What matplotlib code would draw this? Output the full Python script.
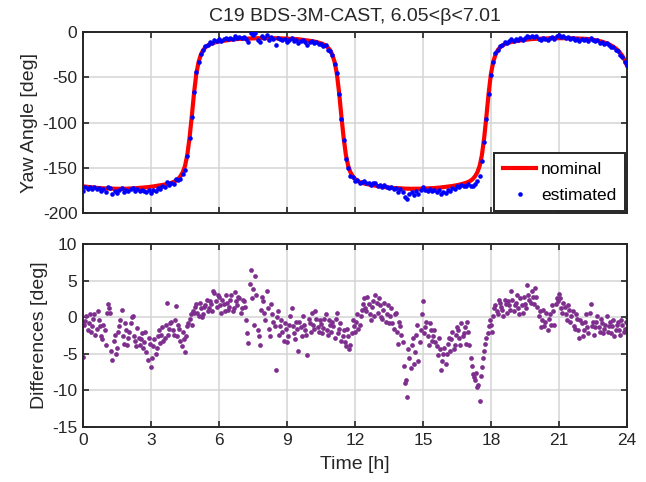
import numpy as np
import matplotlib
matplotlib.use("Agg")
import matplotlib.pyplot as plt

# epochs every 0.1 h over one day, plus the in-between epochs of the difference series
hours = np.round(np.arange(241) * 0.1, 1)
hours_mid = np.round(np.arange(240) * 0.1 + 0.05, 2)

# nominal yaw angle [deg] (one row per hour)
nominal = np.array([
    -170.5, -170.8, -171.1, -171.4, -171.7, -172.0, -172.2, -172.4, -172.6, -172.7,
    -172.8, -172.9, -173.0, -173.1, -173.2, -173.2, -173.2, -173.2, -173.1, -173.1,
    -173.0, -172.9, -172.7, -172.6, -172.4, -172.3, -172.0, -171.8, -171.5, -171.3,
    -171.0, -170.6, -170.2, -169.8, -169.4, -169.0, -168.5, -167.9, -167.3, -166.6,
    -165.6, -164.3, -162.3, -159.3, -155.0, -148.0, -136.0, -117.0, -93.0, -67.0,
    -46.0, -33.0, -25.0, -20.0, -17.0, -15.0, -13.5, -12.5, -11.7, -11.0,
    -10.5, -10.1, -9.7, -9.3, -8.9, -8.6, -8.3, -8.0, -7.8, -7.6,
    -7.5, -7.4, -7.3, -7.2, -7.1, -7.0, -6.9, -6.9, -6.8, -6.8,
    -6.8, -6.8, -6.8, -6.8, -6.8, -6.9, -6.9, -7.0, -7.1, -7.2,
    -7.3, -7.4, -7.5, -7.6, -7.8, -8.0, -8.3, -8.6, -8.9, -9.3,
    -9.7, -10.1, -10.5, -11.0, -11.7, -12.5, -13.5, -15.0, -17.0, -20.0,
    -25.0, -33.0, -46.0, -67.0, -93.0, -117.0, -136.0, -148.0, -155.0, -159.3,
    -162.3, -164.3, -165.8, -166.7, -167.3, -167.9, -168.5, -169.0, -169.4, -169.8,
    -170.2, -170.6, -171.0, -171.3, -171.5, -171.8, -172.0, -172.3, -172.4, -172.6,
    -172.7, -172.9, -173.0, -173.1, -173.1, -173.2, -173.2, -173.2, -173.2, -173.1,
    -173.0, -172.9, -172.8, -172.7, -172.6, -172.4, -172.2, -172.0, -171.7, -171.4,
    -171.1, -170.8, -170.5, -170.1, -169.7, -169.2, -168.7, -168.1, -167.4, -166.6,
    -165.6, -164.3, -162.3, -159.3, -155.0, -148.0, -136.0, -117.0, -93.0, -67.0,
    -46.0, -33.0, -25.0, -20.0, -17.0, -15.0, -13.5, -12.5, -11.7, -11.0,
    -10.5, -10.1, -9.7, -9.3, -8.9, -8.6, -8.3, -8.0, -7.8, -7.6,
    -7.5, -7.4, -7.3, -7.2, -7.1, -7.0, -6.9, -6.9, -6.8, -6.8,
    -6.8, -6.8, -6.8, -6.8, -6.8, -6.9, -6.9, -7.0, -7.1, -7.2,
    -7.3, -7.4, -7.6, -7.8, -8.1, -8.5, -8.9, -9.4, -10.0, -10.7,
    -11.5, -12.4, -13.5, -14.8, -16.3, -18.0, -20.2, -23.0, -26.5, -31.0,
    -37.0,
])

# estimated minus nominal [deg] at the 0.1 h epochs
differences = np.array([
    -5.5, -0.5, -1.8, 0.4, -1.2, 0.5, -1.6, -0.4, -2.6, -1.0,
    -3.8, 1.8, 0.6, -5.8, -2.5, -4.2, -1.2, 1.0, -3.6, -1.8,
    -2.8, -0.8, 0.2, -3.2, -1.5, -3.8, -2.2, -3.4, -4.8, -2.8,
    -6.8, -4.0, -5.0, -2.6, -3.5, -1.4, -2.8, 1.9, -1.6, -0.6,
    -2.4, 1.5, -1.0, -3.2, -2.0, -4.8, -1.2, -0.2, -1.0, 0.6,
    1.8, 0.2, 1.2, 0.4, 1.6, 0.8, 2.2, 0.9, 3.3, 1.4,
    2.8, 0.6, 1.8, 3.0, 1.0, 2.4, 0.8, 3.4, 1.6, 2.6,
    1.2, 2.2, -0.4, -3.5, 6.4, 3.8, 5.6, -1.8, -3.8, 2.8,
    0.6, 3.6, -1.6, 1.8, -0.6, -7.2, 0.8, -1.2, -2.0, -0.8,
    -3.4, -1.0, 1.2, -2.2, -0.6, -4.6, -1.4, 0.2, -1.8, -5.2,
    -0.8, 0.6, -1.6, -0.2, -2.0, -0.9, -1.5, 0.4, -2.4, -1.0,
    -0.6, -2.8, 0.6, -1.6, -3.2, -1.8, -4.0, -2.6, -3.8, -0.4,
    -2.0, 0.4, -1.0, 1.0, 2.6, 0.8, 1.8, -0.4, 2.2, 3.0,
    0.6, 1.6, -0.2, 2.0, 0.4, -0.8, 1.2, -1.6, 0.6, -3.6,
    -1.2, -3.4, -9.0, -10.9, -5.6, -3.8, -6.4, -2.4, -6.0, -1.8,
    2.2, -1.4, -2.6, -0.8, -3.2, -1.8, -4.0, -2.8, -7.2, -5.0,
    -6.4, -3.6, -4.6, -2.0, -3.8, -1.4, -2.8, -0.8, -2.2, -3.6,
    -2.0, -5.6, -7.8, -8.6, -9.6, -11.5, -6.8, -4.6, -2.8, -1.2,
    -1.0, 0.2, 1.6, 0.4, 2.0, 1.0, 2.4, 0.6, 1.6, 3.6,
    0.8, 2.0, 1.2, 2.6, 0.6, 1.8, 4.4, 2.4, 3.6, 1.8,
    2.8, 0.2, -1.4, 1.0, -0.6, -1.8, 0.4, 1.6, -1.0, 2.6,
    3.2, 1.2, 2.0, 0.4, 1.6, -0.6, 0.8, -1.6, -0.2, -2.8,
    -0.8, -1.8, 0.4, -2.2, 1.8, -0.6, -1.4, 0.2, -2.0, -0.8,
    -1.6, 0.2, -1.2, -2.2, -0.4, -1.8, -0.6, -2.4, -1.0, -1.6,
    0.0,
])

# differences at the in-between epochs (0.05, 0.15, ... h)
differences_mid = np.array([
    -1.0, 0.2, -0.8, -2.0, -0.2, -2.4, 0.8, -1.2, -3.0, -1.8,
    0.6, 1.2, -4.6, -3.2, -5.0, -2.0, -0.4, -2.6, -0.8, -3.8,
    -2.0, 0.0, -2.6, -4.0, -2.8, -3.0, -4.2, -2.0, -5.8, -3.6,
    -5.6, -3.0, -4.2, -1.8, -2.4, -3.2, -1.0, -2.4, -0.8, -1.8,
    -0.4, -2.6, -1.6, -4.0, -3.0, -2.6, -0.8, 0.4, 0.8, 1.4,
    0.6, 2.0, 0.0, 1.4, 2.4, 1.2, 1.8, 3.6, 2.2, 3.0,
    1.6, 2.4, 0.8, 2.0, 1.4, 3.0, 1.2, 2.2, 2.8, 0.6,
    2.4, 1.4, -2.2, 4.6, 2.6, -1.0, 3.0, -2.6, 1.0, 2.2,
    -0.4, 1.2, -2.6, 0.4, -1.2, 0.0, -2.4, -0.4, -3.2, -1.6,
    -2.6, 0.2, -1.2, -3.0, -1.6, -0.6, -2.6, -1.0, -2.4, -0.2,
    -2.0, -1.0, 0.8, -1.4, -0.4, -2.2, -0.2, -1.8, -0.4, -2.0,
    -1.2, -0.2, -2.2, -0.8, -2.6, -3.4, -1.6, -4.4, -2.2, -1.2,
    -0.6, -1.6, 0.2, 1.8, 1.2, 2.8, 0.4, 1.4, 0.2, 2.0,
    2.6, 0.0, 1.0, -0.6, 1.6, 0.2, -0.8, 0.4, -2.0, -0.6,
    -2.4, -6.6, -8.6, -4.4, -7.0, -2.8, -4.8, -1.0, -3.4, 0.4,
    -2.2, -0.6, -3.8, -1.8, -2.6, -3.4, -5.2, -4.4, -6.0, -4.2,
    -5.0, -2.8, -3.0, -4.4, -2.4, -1.8, -3.8, -2.6, -1.4, -0.6,
    -3.8, -6.6, -8.2, -7.6, -9.2, -8.0, -5.6, -3.6, -2.2, -0.4,
    -2.0, 1.2, 0.8, 2.4, 1.4, 0.2, 1.8, 2.2, 1.0, 2.4,
    1.6, 3.0, 0.4, 1.6, 2.8, 1.2, 3.0, 2.0, 2.8, 4.0,
    1.4, 0.8, -0.4, -1.2, 0.6, -0.2, -1.0, 0.8, 1.8, 2.2,
    2.6, 0.6, 1.4, -0.4, 1.0, 0.2, -1.2, 0.4, -1.8, -0.4,
    -2.6, -0.6, -1.4, 0.6, -1.2, -2.4, -0.6, -1.4, -0.2, -2.2,
    -1.0, -2.0, -0.6, -1.2, -2.6, -1.0, -1.8, -0.4, -2.0, -0.6,
])

estimated = nominal + differences

x_ticks = np.arange(0, 25, 3)
yaw_ticks = [-200, -150, -100, -50, 0]
diff_ticks = [-15, -10, -5, 0, 5, 10]

plt.rcParams["font.family"] = ["Liberation Sans", "DejaVu Sans"]
plt.rcParams["axes.unicode_minus"] = False
tick_size, label_size = 12.5, 14

text_color = "#262626"
grid_color = "#d4d4d4"

fig = plt.figure(figsize=(6.46, 4.82), dpi=100)
ax1 = fig.add_axes([0.1285, 0.558, 0.842, 0.3756])
ax2 = fig.add_axes([0.1285, 0.1141, 0.842, 0.3797])

for ax in (ax1, ax2):
    ax.set_xlim(0, 24)
    ax.set_xticks(x_ticks)
    ax.grid(True, color=grid_color, linewidth=1.1)
    ax.set_axisbelow(True)
    ax.tick_params(direction="in", top=True, right=True, length=4, width=1.2,
                   colors=text_color, labelsize=tick_size, labelcolor=text_color, pad=4)
    for spine in ax.spines.values():
        spine.set_linewidth(1.4)
        spine.set_color(text_color)

ax1.plot(hours, nominal, color="#ff0000", linewidth=3.0, label="nominal", zorder=2)
ax1.plot(hours, estimated, linestyle="none", marker="o", markersize=3.3,
         color="#0000ff", markeredgewidth=0, label="estimated", zorder=3)
ax1.set_ylim(-200, 0)
ax1.set_yticks(yaw_ticks)
ax1.tick_params(labelbottom=False)
ax1.set_ylabel("Yaw Angle [deg]", color=text_color, fontsize=label_size, labelpad=3)
ax1.set_title("C19 BDS-3M-CAST, 6.05<β<7.01", fontsize=label_size, color=text_color, pad=8)
leg = ax1.legend(loc="lower right", fancybox=False, framealpha=1, edgecolor=text_color,
                 borderaxespad=0.1, handlelength=1.9, handletextpad=0.3,
                 borderpad=0.5, labelspacing=0.6, markerscale=1.0, fontsize=tick_size)
leg.get_frame().set_linewidth(1.4)

purple = "#7e2f8e"
ax2.plot(hours, differences, linestyle="none", marker="o", markersize=3.4,
         color=purple, markeredgewidth=0)
ax2.plot(hours_mid, differences_mid, linestyle="none", marker="o", markersize=3.4,
         color=purple, markeredgewidth=0)
ax2.set_ylim(-15, 10)
ax2.set_yticks(diff_ticks)
ax2.set_ylabel("Differences [deg]", color=text_color, fontsize=label_size, labelpad=3)
ax2.set_xlabel("Time [h]", color=text_color, fontsize=label_size, labelpad=6)

fig.savefig("out.png", dpi=100)
